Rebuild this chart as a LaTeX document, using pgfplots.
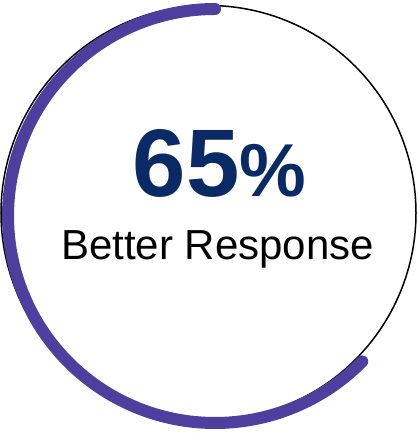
\documentclass[border=0pt]{standalone}
\usepackage{pgfplots}
\pgfplotsset{compat=1.18}
\usepackage{fontspec}
\setmainfont{Liberation Sans}
\definecolor{ringpurple}{HTML}{4E3F9E}
\definecolor{navy}{HTML}{0A2A66}
% one value: share of the ring, in percent
\pgfplotstableread{
share start
62.6  90
}\ringdata
\pgfplotstablegetelem{0}{share}\of\ringdata \let\share\pgfplotsretval
\pgfplotstablegetelem{0}{start}\of\ringdata \let\startangle\pgfplotsretval
\begin{document}
\begin{tikzpicture}
\useasboundingbox (0,0) rectangle (418pt,433pt);
% thin full ring (100%)
\begin{axis}[
    at={(0,0)}, anchor=south west,
    scale only axis, width=418pt, height=433pt,
    hide axis, clip=false,
    xmin=-208.5, xmax=209.5, ymin=-220, ymax=213,
]
\addplot[black, line width=1.5pt, data cs=polar, domain=0:360, samples=241] {207.5};
\end{axis}
% thick arc for the share
\begin{axis}[
    at={(0,0)}, anchor=south west,
    scale only axis, width=418pt, height=433pt,
    hide axis, clip=false,
    xmin=-215, xmax=203, ymin=-217, ymax=216,
]
\addplot[ringpurple, line width=12pt, line cap=round, data cs=polar,
    domain=\startangle:\startangle+3.6*\share, samples=181] {207};
\end{axis}
\node[anchor=base, text=navy, font=\bfseries, inner sep=0pt] at (219.5pt,236pt)
    {{\fontsize{96}{96}\selectfont 65}{\fontsize{75}{75}\selectfont\%}};
\node[anchor=base, text=black, inner sep=0pt] at (217.5pt,173pt)
    {\fontsize{42}{42}\selectfont Better Response};
\end{tikzpicture}
\end{document}
